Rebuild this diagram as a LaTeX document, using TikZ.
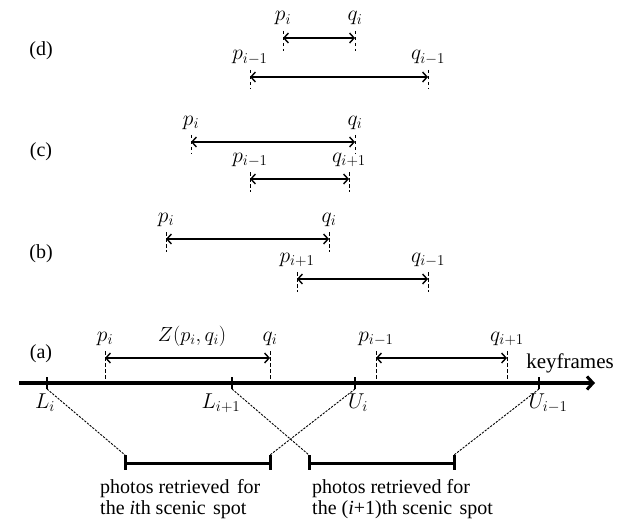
\documentclass[tikz,border=0pt]{standalone}
\usepackage{fix-cm}
\usepackage[no-math]{fontspec}
\setmainfont{Liberation Serif}
\usetikzlibrary{arrows.meta,calc}

\tikzset{
  lbl/.style={inner sep=0pt, anchor=base, font=\fontsize{21.5}{24}\selectfont},
  tag/.style={inner sep=0pt, anchor=base},
  span/.style={line width=1.4pt,
    {Straight Barb[length=4.5pt,width=10pt,line width=1.4pt]}-{Straight Barb[length=4.5pt,width=10pt,line width=1.4pt]}},
  tickline/.style={line width=0.9pt, dash pattern=on 3.5pt off 2.5pt},
  guide/.style={line width=0.9pt, dash pattern=on 2.2pt off 1.3pt},
  axis/.style={line width=3.2pt, -{Straight Barb[length=6pt,width=13pt,line width=3pt]}},
  axtick/.style={line width=2.6pt},
  bar/.style={line width=3pt},
  caption/.style={inner sep=0pt, anchor=base west, align=left,
    font=\fontsize{20}{20.5}\selectfont},
}

% interval with dashed end ticks and labels above both ends
% #1 name, #2 left x, #3 right x, #4 arrow y, #5 lower end of ticks, #6/#7 labels
\newcommand{\drawspan}[7]{%
  \coordinate (#1-l) at (#2,#4);
  \coordinate (#1-r) at (#3,#4);
  \coordinate (#1-lt) at (#2,#4-7);
  \coordinate (#1-lb) at (#2,#5);
  \coordinate (#1-rt) at (#3,#4-7);
  \coordinate (#1-rb) at (#3,#5);
  \draw[tickline] (#1-lt) -- (#1-lb);
  \draw[tickline] (#1-rt) -- (#1-rb);
  \draw[span] (#1-l) -- (#1-r);
  \node[lbl] (#1-pl) at (#2,#4-17) {$#6$};
  \node[lbl] (#1-pr) at (#3,#4-17) {$#7$};
}

\begin{document}
\begin{tikzpicture}[x=1pt, y=-1pt, font=\fontsize{20}{21}\selectfont]
\useasboundingbox (0,0) rectangle (629,524);

% case labels
\node[tag] (tagd) at (41,56) {(d)};
\node[tag] (tagc) at (41,157) {(c)};
\node[tag] (tagb) at (41,258) {(b)};
\node[tag] (taga) at (41,358) {(a)};

% (d)
\drawspan{d1}{283}{355}{38}{51}{p_i}{q_i}
\drawspan{d2}{250}{428}{77}{89}{p_{i-1}}{q_{i-1}}

% (c)
\drawspan{c1}{191}{355}{142}{154}{p_i}{q_i}
\drawspan{c2}{250}{349}{179}{192}{p_{i-1}}{q_{i+1}}

% (b)
\drawspan{b1}{166}{329}{239}{252}{p_i}{q_i}
\drawspan{b2}{297}{428}{279}{292}{p_{i+1}}{q_{i-1}}

% (a): the keyframe axis
\coordinate (ax0) at (19,383);
\coordinate (ax1) at (595,383);
\draw[axis] (ax0) -- (ax1);
\node[tag, anchor=base east, font=\fontsize{21}{22}\selectfont] (kf) at (614,368) {keyframes};

\drawspan{a1}{105}{270}{358}{383}{p_i}{q_i}
\drawspan{a2}{376}{507}{358}{383}{p_{i-1}}{q_{i+1}}
\node[lbl, font=\fontsize{20.5}{22}\selectfont] (zlab) at (192,341) {$Z(p_i,q_i)$};

% bounds on the axis
\foreach \n/\x in {Li/47, Lj/232, Ui/355, Uj/539}{
  \coordinate (\n-t) at (\x,377);
  \coordinate (\n-b) at (\x,389);
  \draw[axtick] (\n-t) -- (\n-b);
}
\node[lbl] (Lil) at (45,408) {$L_i$};
\node[lbl] (Ljl) at (221,408) {$L_{i+1}$};
\node[lbl] (Uil) at (358,408) {$U_i$};
\node[lbl] (Ujl) at (548,408) {$U_{i-1}$};

% retrieved photo ranges
\coordinate (p1l) at (125,463);
\coordinate (p1r) at (270,463);
\coordinate (p2l) at (309,463);
\coordinate (p2r) at (454,463);
\draw[bar] (p1l) -- (p1r);
\draw[bar] (p2l) -- (p2r);
\foreach \c in {p1l,p1r,p2l,p2r}{
  \draw[bar] ($(\c)+(0,-8)$) -- ($(\c)+(0,7)$);
}

% mapping between bounds and photo ranges
\draw[guide] (Li-b) -- ($(p1l)+(0,-8)$);
\draw[guide] (Ui-b) -- ($(p1r)+(0,-8)$);
\draw[guide] (Lj-b) -- ($(p2l)+(0,-8)$);
\draw[guide] (Uj-b) -- ($(p2r)+(0,-8)$);

\node[caption] (cap1) at (100,514) {photos retrieved\hspace{0.12em} for\\the \textit{i}th scenic\hspace{0.12em} spot};
\node[caption] (cap2) at (312,514) {photos retrieved for\\the (\textit{i}+1)th scenic\hspace{0.12em} spot};
\end{tikzpicture}
\end{document}
